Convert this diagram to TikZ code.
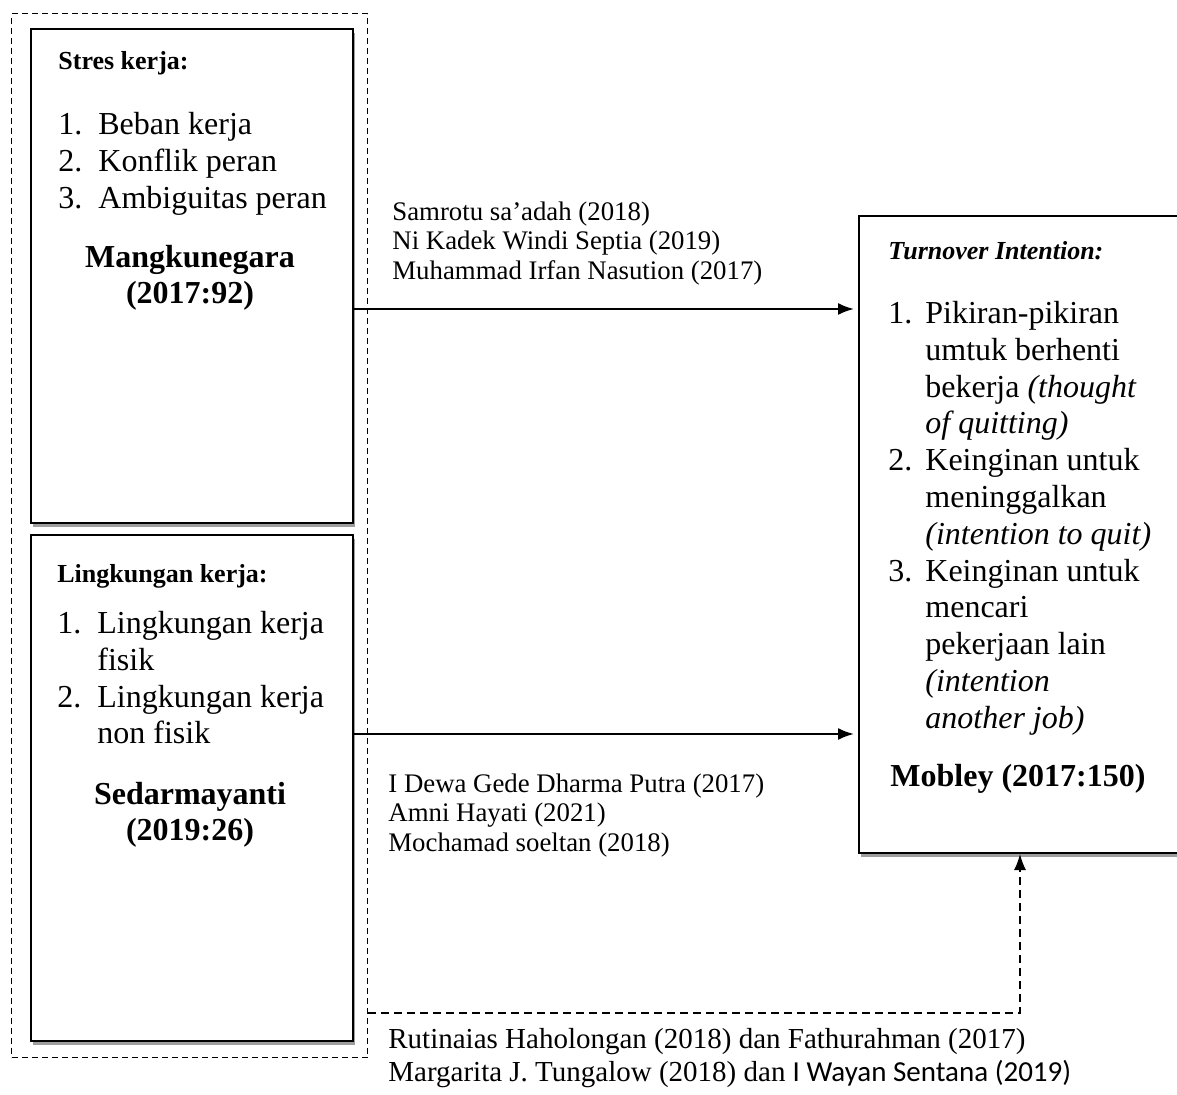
\documentclass[tikz,border=0pt]{standalone}
\usepackage{fontspec}
\setmainfont{Liberation Serif}
\newfontfamily\carlito{Carlito}
\usetikzlibrary{arrows.meta,positioning,shadows}

\begin{document}
\begin{tikzpicture}[
  x=0.5pt, y=-0.5pt,
  box/.style={draw, line width=1pt, fill=white, anchor=north west, inner sep=0pt,
    drop shadow={shadow xshift=1pt, shadow yshift=-2pt, fill=black!38, opacity=1}},
  group/.style={draw, line width=0.7pt, dash pattern=on 3pt off 2pt, anchor=north west, inner sep=0pt},
  head/.style={font=\fontsize{13}{15}\selectfont\bfseries, anchor=mid west, inner sep=0pt},
  items/.style={font=\fontsize{16}{18.4}\selectfont, anchor=mid west, inner sep=0pt},
  ref/.style={font=\fontsize{16}{18.2}\selectfont\bfseries, align=center, inner sep=0pt},
  cite/.style={font=\fontsize{13.4}{14.7}\selectfont, anchor=mid west, inner sep=0pt},
  citebig/.style={font=\fontsize{14.5}{16.5}\selectfont, anchor=mid west, inner sep=0pt},
  arr/.style={-{Latex[length=8pt,width=6pt]}, line width=1pt, shorten >=2pt},
  darr/.style={-{Latex[length=8pt,width=6pt]}, line width=0.7pt, dash pattern=on 4pt off 2.5pt}
]
\clip (0,0) rectangle (1177,1095);
\node[group, minimum width=178pt, minimum height=522pt] (grp) at (11,13) {};
% variable boxes
\node[box, minimum width=161pt, minimum height=247pt] (stres) at (30,28) {};
\node[box, minimum width=161pt, minimum height=253pt] (ling) at (30,534) {};
\node[box, minimum width=170pt, minimum height=318.5pt] (turn) at (858,215) {};
% stres kerja
\node[head] (stres-h) at (58,65) {Stres kerja:};
\node[items] (stres-l) at (58,130) {\begin{tabular}[t]{@{}p{20pt}@{}l@{}}
  1. & Beban kerja\\ 2. & Konflik peran\\ 3. & Ambiguitas peran\end{tabular}};
\node[ref] (stres-r) at (190,278) {Mangkunegara\\(2017:92)};
% lingkungan kerja
\node[head] (ling-h) at (57,578) {Lingkungan kerja:};
\node[items] (ling-l) at (57,629) {\begin{tabular}[t]{@{}p{20pt}@{}l@{}}
  1. & Lingkungan kerja\\ & fisik\\ 2. & Lingkungan kerja\\ & non fisik\end{tabular}};
\node[ref] (ling-r) at (190,815) {Sedarmayanti\\(2019:26)};
% turnover intention
\node[head] (turn-h) at (888,255) {\itshape Turnover Intention:};
\node[items] (turn-l) at (888,319) {\begin{tabular}[t]{@{}p{18.5pt}@{}l@{}}
  1. & Pikiran-pikiran\\ & umtuk berhenti\\ & bekerja \textit{(thought}\\ & \textit{of quitting)}\\
  2. & Keinginan untuk\\ & meninggalkan\\ & \textit{(intention to quit)}\\
  3. & Keinginan untuk\\ & mencari\\ & pekerjaan lain\\ & \textit{(intention}\\ & \textit{another job)}\end{tabular}};
\node[ref] (turn-r) at (1018,779) {Mobley (2017:150)};
% citations
\node[cite] (cite-a) at (392,216) {\begin{tabular}[t]{@{}l@{}}
  Samrotu sa’adah (2018)\\ Ni Kadek Windi Septia (2019)\\ Muhammad Irfan Nasution (2017)\end{tabular}};
\node[cite] (cite-b) at (388,788) {\begin{tabular}[t]{@{}l@{}}
  I Dewa Gede Dharma Putra (2017)\\ Amni Hayati (2021)\\ Mochamad soeltan (2018)\end{tabular}};
\node[citebig] (cite-c) at (388,1044) {\begin{tabular}[t]{@{}l@{}}
  Rutinaias Haholongan (2018) dan Fathurahman (2017)\\
  Margarita J. Tungalow (2018) dan {\carlito I Wayan Sentana (2019)}\end{tabular}};
% arrows
\coordinate (bend) at (1020,1013);
\draw[arr] ([yshift=-16.5pt]stres.east) -- ([yshift=-16.5pt]stres.east -| turn.west);
\draw[arr] ([yshift=27pt]ling.east) -- ([yshift=27pt]ling.east -| turn.west);
\draw[darr] (grp.east |- bend) -- (bend) -- (bend |- turn.south);
\end{tikzpicture}
\end{document}
